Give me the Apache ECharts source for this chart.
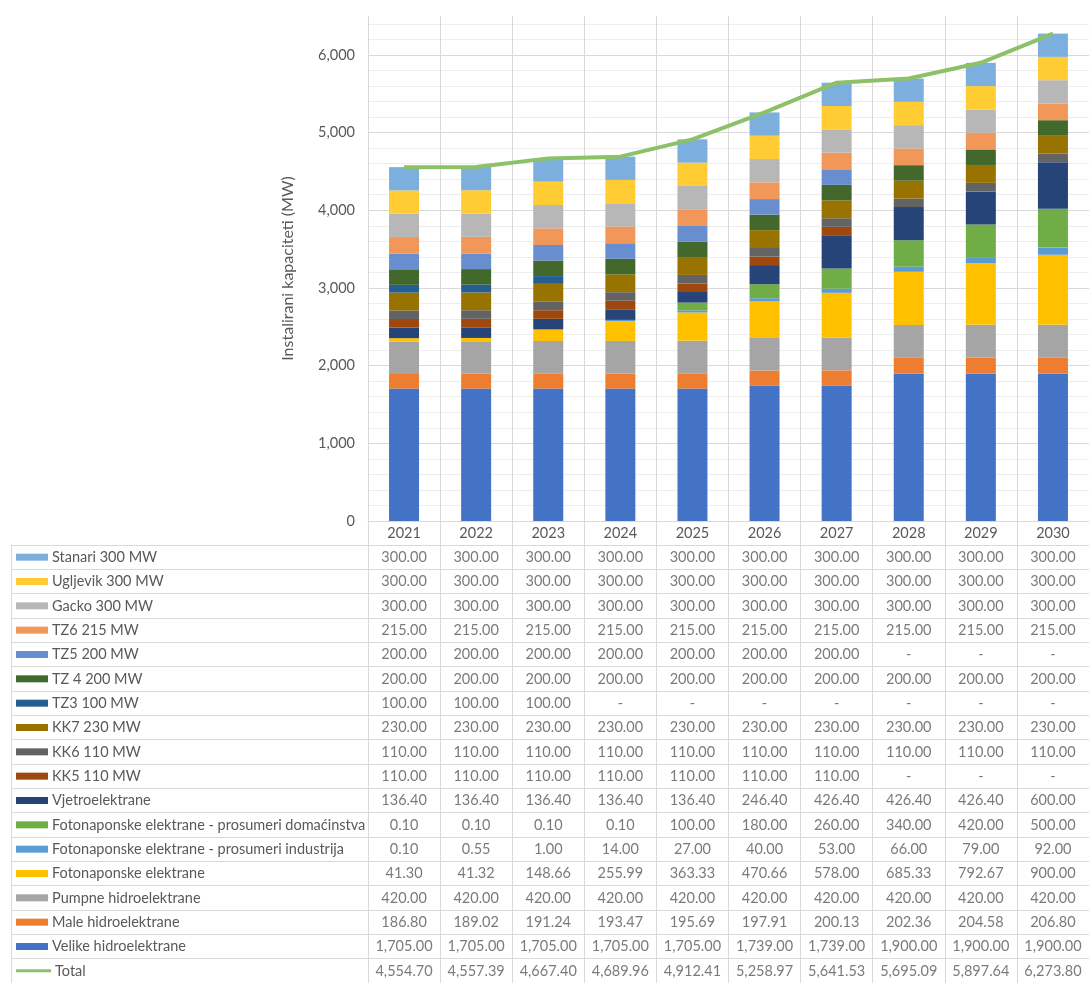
<!DOCTYPE html>
<html>
<head>
<meta charset="utf-8">
<script src="https://cdn.jsdelivr.net/npm/echarts@6/dist/echarts.min.js"></script>
<style>
html,body{margin:0;padding:0;background:#fff;}
#chart{width:1089px;height:983px;}
</style>
</head>
<body>
<div id="chart"></div>
<script>
// ---- data ----
const years = ['2021','2022','2023','2024','2025','2026','2027','2028','2029','2030'];
const velike      = [1705.00,1705.00,1705.00,1705.00,1705.00,1739.00,1739.00,1900.00,1900.00,1900.00];
const male        = [186.80,189.02,191.24,193.47,195.69,197.91,200.13,202.36,204.58,206.80];
const pumpne      = [420,420,420,420,420,420,420,420,420,420];
const foto        = [41.30,41.32,148.66,255.99,363.33,470.66,578.00,685.33,792.67,900.00];
const industrija  = [0.10,0.55,1.00,14.00,27.00,40.00,53.00,66.00,79.00,92.00];
const domacinstva = [0.10,0.10,0.10,0.10,100.00,180.00,260.00,340.00,420.00,500.00];
const vjetro      = [136.40,136.40,136.40,136.40,136.40,246.40,426.40,426.40,426.40,600.00];
const kk5         = [110,110,110,110,110,110,110,0,0,0];
const kk6         = [110,110,110,110,110,110,110,110,110,110];
const kk7         = [230,230,230,230,230,230,230,230,230,230];
const tz3         = [100,100,100,0,0,0,0,0,0,0];
const tz4         = [200,200,200,200,200,200,200,200,200,200];
const tz5         = [200,200,200,200,200,200,200,0,0,0];
const tz6         = [215,215,215,215,215,215,215,215,215,215];
const gacko       = [300,300,300,300,300,300,300,300,300,300];
const ugljevik    = [300,300,300,300,300,300,300,300,300,300];
const stanari     = [300,300,300,300,300,300,300,300,300,300];
const total       = [4554.70,4557.39,4667.40,4689.96,4912.41,5258.97,5641.53,5695.09,5897.64,6273.80];

// stack order bottom -> top
const stackNames = ['Velike hidroelektrane','Male hidroelektrane','Pumpne hidroelektrane','Fotonaponske elektrane',
  'Fotonaponske elektrane - prosumeri industrija','Fotonaponske elektrane - prosumeri domaćinstva','Vjetroelektrane',
  'KK5 110 MW','KK6 110 MW','KK7 230 MW','TZ3 100 MW','TZ 4 200 MW','TZ5 200 MW','TZ6 215 MW',
  'Gacko 300 MW','Ugljevik 300 MW','Stanari 300 MW'];
const stackData = [velike,male,pumpne,foto,industrija,domacinstva,vjetro,kk5,kk6,kk7,tz3,tz4,tz5,tz6,gacko,ugljevik,stanari];
const stackColors = ['#4472C4','#ED7D31','#A5A5A5','#FFC000','#5B9BD5','#70AD47','#264478',
  '#9E480E','#636363','#997300','#255E91','#43682B','#698ED0','#F1975A','#B7B7B7','#FFCD33','#7CAFDD'];
const totalName = 'Total';
const totalColor = '#8CC168';
const yAxisTitle = 'Instalirani kapaciteti (MW)';

// ---- build ----
const txt = '#595959';
const gridCol = '#D9D9D9';
const minorCol = '#EDEDED';
const FONT = 'Lato, "Open Sans", sans-serif';
const FS = 14.5;

const tableRows = stackNames.slice().reverse().concat([totalName]);
const tableData = stackData.slice().reverse().concat([total]);
const tableColors = stackColors.slice().reverse().concat([totalColor]);

function fmt(v){
  if (!v) return '-';
  return v.toLocaleString('en-US',{minimumFractionDigits:2,maximumFractionDigits:2});
}

const rich = {t:{fontSize:FS,color:txt,fontFamily:FONT,padding:[0,0,0,4]}};
tableRows.forEach((n,i)=>{
  if (i === tableRows.length-1) rich['k'+i] = {width:35,height:3,backgroundColor:tableColors[i]};
  else rich['k'+i] = {width:32,height:7,backgroundColor:tableColors[i]};
});

const cells = [];
tableRows.forEach((r,ri)=>{
  years.forEach((y,yi)=>{
    cells.push({value:[y,r],txt:fmt(tableData[ri][yi])});
  });
});

// major every 1000, minor every 200, top extent line hidden
const splitColors = [];
for (let v=0; v<=6400; v+=200) splitColors.push(v%1000===0?gridCol:minorCol);
splitColors.push('rgba(0,0,0,0)');

const series = stackNames.map((n,i)=>({
  name:n, type:'bar', stack:'cap', barWidth:30, xAxisIndex:0, yAxisIndex:0,
  itemStyle:{color:stackColors[i]}, data:stackData[i], silent:true
}));
series.push({name:totalName,type:'line',xAxisIndex:0,yAxisIndex:0,data:total,showSymbol:false,symbol:'none',
  lineStyle:{color:totalColor,width:4},itemStyle:{color:totalColor},z:10,silent:true});
series.push({type:'scatter',xAxisIndex:1,yAxisIndex:1,data:cells,symbolSize:1,itemStyle:{color:'rgba(0,0,0,0)'},silent:true,
  label:{show:true,position:'inside',fontSize:FS,fontFamily:FONT,color:txt,formatter:p=>p.data.txt}});

const chart = echarts.init(document.getElementById('chart'));
chart.setOption({
  animation:false,
  textStyle:{fontFamily:FONT},
  grid:[
    {left:368,top:16,width:732,height:505},
    {left:368,top:545,width:732,height:18*24.55}
  ],
  xAxis:[
    {type:'category',gridIndex:0,data:years,boundaryGap:true,
     axisLine:{show:true,lineStyle:{color:gridCol}},
     axisTick:{show:true,length:24,lineStyle:{color:gridCol}},
     axisLabel:{color:txt,fontSize:FS,fontFamily:FONT,margin:5},
     splitLine:{show:true,lineStyle:{color:gridCol}}},
    {type:'category',gridIndex:1,data:years,boundaryGap:true,
     axisLine:{show:false},axisTick:{show:false},axisLabel:{show:false},
     splitLine:{show:true,lineStyle:{color:gridCol}}}
  ],
  yAxis:[
    {type:'value',gridIndex:0,min:0,max:6500,interval:200,
     name:yAxisTitle,nameLocation:'middle',nameGap:72,
     nameTextStyle:{color:txt,fontSize:16,fontFamily:FONT},
     axisLine:{show:false},axisTick:{show:false},
     axisLabel:{color:txt,fontSize:FS,fontFamily:FONT,margin:13,
       formatter:v=> (v%1000===0 ? v.toLocaleString('en-US') : '')},
     splitLine:{show:true,lineStyle:{color:splitColors}}},
    {type:'category',gridIndex:1,data:tableRows,inverse:true,boundaryGap:true,
     axisLine:{show:true,lineStyle:{color:gridCol}},
     axisTick:{show:true,length:357,lineStyle:{color:gridCol}},
     axisLabel:{show:true,interval:0,align:'left',margin:352,
       formatter:(v,i)=>'{k'+i+'| }{t|'+v+'}',rich:rich},
     splitLine:{show:true,lineStyle:{color:gridCol}}},
    {type:'category',gridIndex:1,data:tableRows,inverse:true,position:'left',offset:357,
     axisLine:{show:true,lineStyle:{color:gridCol}},
     axisTick:{show:false},axisLabel:{show:false},splitLine:{show:false}}
  ],
  series:series
});
</script>
</body>
</html>
